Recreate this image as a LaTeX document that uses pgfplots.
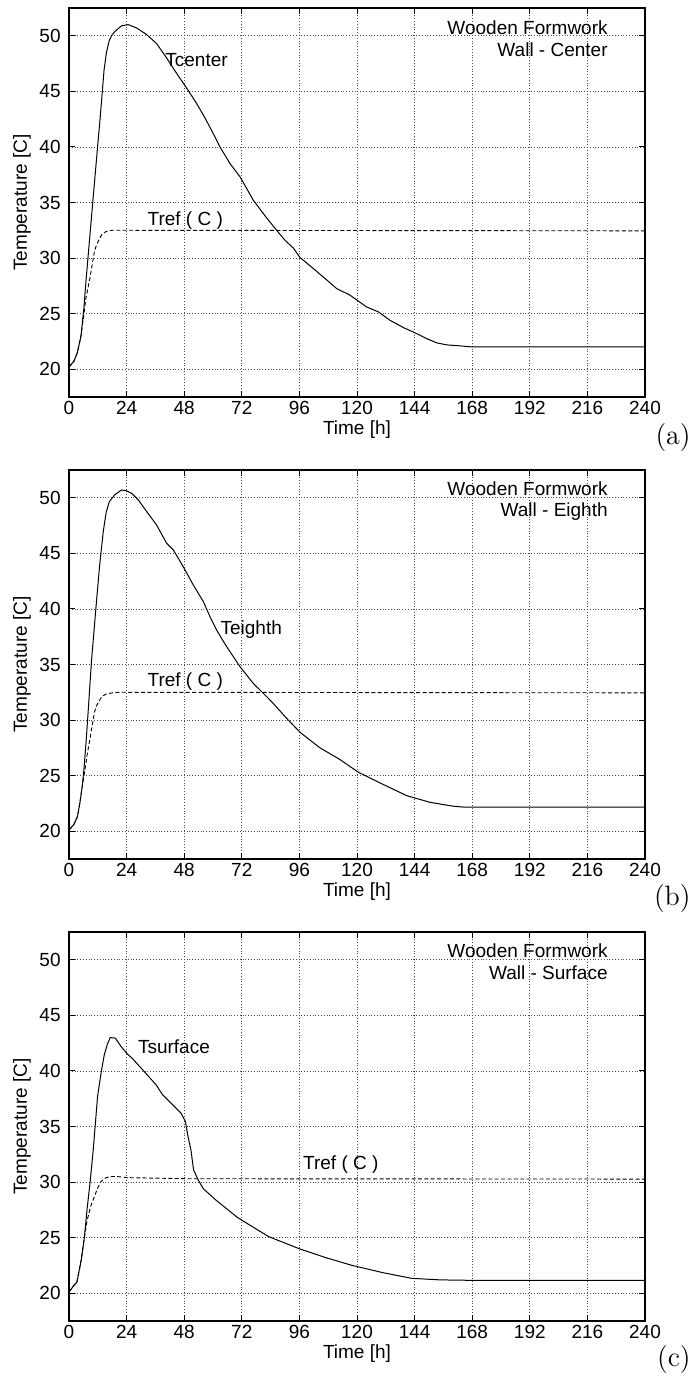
\documentclass[border=0pt]{standalone}
\usepackage{fontspec}
\setmainfont{Liberation Sans}
\newfontfamily\lmr{Latin Modern Roman}
\usepackage{pgfplots}
\pgfplotsset{compat=1.18}
\pgfplotsset{
  panel/.style={
    scale only axis, width=288pt, height=194.5pt, anchor=north west,
    xmin=0, xmax=240, ymin=17.5, ymax=52.5,
    xtick={0,24,...,240}, ytick={20,25,...,50},
    grid=major, major grid style={densely dotted, black!70, line width=0.4pt},
    axis line style={line width=0.6pt},
    tick style={black, line width=0.5pt}, major tick length=3pt, tick align=inside,
    /pgf/number format/assume math mode=true,
    xticklabel style={inner sep=0pt, yshift=-2pt},
    yticklabel style={inner sep=0pt, xshift=-4pt},
    xlabel={Time [h]}, ylabel={Temperature [C]},
    xlabel style={at={(axis description cs:0.5,-0.084)}, anchor=center, inner sep=0pt},
    ylabel style={at={(axis description cs:-0.0816,0.5)}, anchor=center, inner sep=0pt},
  },
  solidc/.style={black, line width=0.5pt, no marks},
  dashc/.style={black, line width=0.45pt, dash pattern=on 2pt off 1.2pt, no marks},
}
\begin{document}
\begin{tikzpicture}[font=\fontsize{9.5}{11}\selectfont]
\useasboundingbox (0,0) rectangle (345.5pt,-690pt);

% ---------------- (a)
\begin{axis}[panel, at={(34.5pt,-4pt)}]
\addplot[solidc] coordinates {
(0,20.2)(2,20.7)(3.5,21.5)(5,23)(6.2,25.5)(7.1,28)(7.9,30)(9.9,35)(11.9,40)(12.9,42.4)
(13.7,44.5)(14.6,46.9)(15.6,48.5)(16.8,49.6)(18,50.1)(19.2,50.4)(21.9,50.9)(24.7,51.0)
(28.2,50.7)(32.4,50.1)(36.5,49.3)(40.7,48.0)(44.9,46.6)(49.0,45.3)(53.2,43.9)(56.7,42.6)
(60.1,41.2)(62.9,40.0)(67.1,38.5)(71.3,37.3)(76.8,35.2)(82.4,33.6)(86.5,32.5)(90,31.6)
(93.5,30.9)(96.25,30.05)(101.8,29.06)(106.7,28.16)(111.5,27.26)(117.1,26.66)(124,25.6)
(128.9,25.16)(133.75,24.4)(139.3,23.75)(144.2,23.27)(149,22.76)(153.2,22.37)(157.4,22.19)
(162.9,22.1)(168.2,22.0)(240,22.0)};
\addplot[dashc] coordinates {
(0,20.2)(2,20.7)(3.5,21.5)(5,23)(6,24.6)(7,26.3)(8,27.4)(8.8,28.3)(10.6,30.6)(11.5,31.2)
(13.6,32.1)(15.5,32.4)(18,32.5)(21,32.5)(240,32.45)};
\node[anchor=west, inner sep=0pt] at (axis cs:40,47.8) {Tcenter};
\node[anchor=west, inner sep=0pt] at (axis cs:32.6,33.4) {Tref ( C )};
\node[anchor=east, inner sep=0pt] at (axis cs:224.6,50.75) {Wooden Formwork};
\node[anchor=east, inner sep=0pt] at (axis cs:224.6,48.77) {Wall - Center};
\end{axis}

% ---------------- (b)
\begin{axis}[panel, at={(34.5pt,-235pt)}]
\addplot[solidc] coordinates {
(0,20.1)(2,20.6)(3.5,21.3)(4.5,22.5)(5.5,24)(6.2,25.5)(7.1,28)(7.9,30.5)(9.4,35.4)
(11.5,40.8)(12.8,44)(14.3,47)(15.5,48.7)(16.8,49.65)(19.2,50.3)(21.9,50.7)(23.75,50.64)
(26.1,50.4)(28.9,49.8)(32.4,48.75)(36.5,47.55)(40.7,45.9)(43.5,45.3)(47.6,43.8)(51.8,42.15)
(56,40.65)(58.75,39.3)(61.5,38.1)(65.7,36.6)(71.25,34.8)(76.8,33.3)(82.4,32.1)(85.1,31.5)
(90.5,30.2)(96.25,28.9)(104.6,27.5)(112.9,26.45)(120.6,25.3)(131,24.2)(140.7,23.2)
(150.4,22.6)(160.1,22.25)(165,22.16)(240,22.16)};
\addplot[dashc] coordinates {
(0,20.1)(2,20.6)(3.5,21.3)(4.5,22.5)(5.5,24)(6.5,25.3)(7.5,26.8)(8.8,28.4)(10.6,30.7)(11.5,31.3)
(13.6,32.1)(15.5,32.35)(18,32.45)(21,32.5)(240,32.45)};
\node[anchor=west, inner sep=0pt] at (axis cs:63,38.1) {Teighth};
\node[anchor=west, inner sep=0pt] at (axis cs:32.6,33.45) {Tref ( C )};
\node[anchor=east, inner sep=0pt] at (axis cs:224.6,50.8) {Wooden Formwork};
\node[anchor=east, inner sep=0pt] at (axis cs:224.6,48.8) {Wall - Eighth};
\end{axis}

% ---------------- (c)
\begin{axis}[panel, at={(34.5pt,-466pt)}]
\addplot[solidc] coordinates {
(0,20.1)(2,20.7)(3.3,21)(5.1,23)(6.4,25)(7.5,27.5)(8.8,30)(10.1,32.9)(11.9,37.7)(13.5,40)
(14.7,41.45)(16,42.4)(17.2,43.0)(19.3,42.96)(21.7,42.2)(24.2,41.55)(26.5,41.1)(30.7,40.1)
(36.25,38.76)(39,37.86)(43.2,36.96)(46.7,36.2)(48.5,35.46)(49.5,34.2)(50.8,32.9)(51.9,31.1)
(53.8,30.2)(56,29.4)(61.1,28.4)(70.3,26.8)(83.1,25.1)(96,24.0)(107,23.2)(118,22.5)
(130.8,21.85)(142.75,21.34)(154.7,21.2)(167.5,21.16)(240,21.15)};
\addplot[dashc] coordinates {
(0,20.1)(2,20.7)(3.3,21)(5.1,23)(6.4,25)(7.5,26.5)(9,27.8)(10.6,28.7)(12,29.5)(13.4,30.06)
(15,30.35)(17.1,30.5)(20,30.5)(24.4,30.4)(50,30.3)(240,30.27)};
\node[anchor=west, inner sep=0pt] at (axis cs:28.6,42.2) {Tsurface};
\node[anchor=west, inner sep=0pt] at (axis cs:97.4,31.55) {Tref ( C )};
\node[anchor=east, inner sep=0pt] at (axis cs:224.6,50.8) {Wooden Formwork};
\node[anchor=east, inner sep=0pt] at (axis cs:224.6,48.8) {Wall - Surface};
\end{axis}

\node[anchor=east, inner sep=0pt, font=\lmr\fontsize{14}{16}\selectfont] at (345.5pt,-219pt) {(a)};
\node[anchor=east, inner sep=0pt, font=\lmr\fontsize{14}{16}\selectfont] at (345.5pt,-449.5pt) {(b)};
\node[anchor=east, inner sep=0pt, font=\lmr\fontsize{14}{16}\selectfont] at (345.5pt,-679.5pt) {(c)};
\end{tikzpicture}
\end{document}
